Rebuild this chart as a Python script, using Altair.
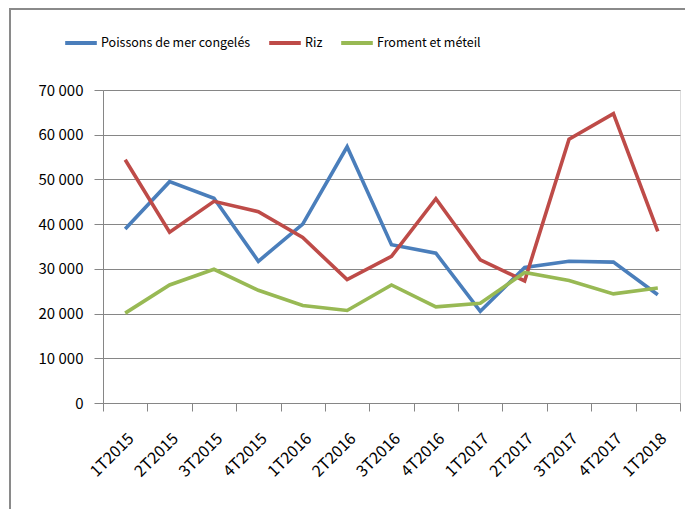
import altair as alt
import pandas as pd

quarters = ["1T2015", "2T2015", "3T2015", "4T2015", "1T2016", "2T2016", "3T2016",
            "4T2016", "1T2017", "2T2017", "3T2017", "4T2017", "1T2018"]
series_names = ["Poissons de mer congelés", "Riz", "Froment et méteil"]
poissons = [38900, 49500, 45800, 31700, 40000, 57300, 35400, 33500, 20500, 30300, 31700, 31500, 24200]
riz = [54400, 38200, 45100, 42800, 37000, 27600, 32800, 45700, 32000, 27300, 59000, 64700, 38400]
froment = [20100, 26400, 29900, 25200, 21800, 20700, 26400, 21500, 22300, 29200, 27400, 24400, 25700]
colors = ["#4a7ebb", "#be4b48", "#98b954"]
y_ticks = [0, 10000, 20000, 30000, 40000, 50000, 60000, 70000]

rows = []
for name, vals in zip(series_names, [poissons, riz, froment]):
    for q, v in zip(quarters, vals):
        rows.append({"Trimestre": q, "Produit": name, "Valeur": v})
df = pd.DataFrame(rows)

FONT = "Noto Sans CJK JP"
GRAY = "#868686"

lines = alt.Chart(df).mark_line(strokeWidth=3.6).encode(
    x=alt.X("Trimestre:O", sort=quarters, title=None,
            scale=alt.Scale(type="band", paddingInner=0, paddingOuter=0),
            axis=alt.Axis(labelAngle=-45, tickBand="extent", grid=False,
                          domainColor=GRAY, tickColor=GRAY, tickSize=8,
                          labelFont=FONT, labelFontSize=16, labelColor="#000000",
                          labelPadding=19)),
    y=alt.Y("Valeur:Q", title=None,
            scale=alt.Scale(domain=[0, 70000], nice=False),
            axis=alt.Axis(values=y_ticks, grid=True, gridColor=GRAY, gridWidth=1,
                          domainColor=GRAY, tickColor=GRAY, tickSize=9,
                          labelFont=FONT, labelFontSize=15, labelColor="#000000",
                          labelPadding=11,
                          labelExpr="replace(format(datum.value, ','), ',', ' ')")),
    color=alt.Color("Produit:N", sort=series_names,
                    scale=alt.Scale(domain=series_names, range=colors),
                    legend=alt.Legend(title=None, orient="none", direction="horizontal",
                                      legendX=-40, legendY=-65,
                                      symbolType="stroke", symbolSize=1000,
                                      symbolStrokeWidth=4, labelFont=FONT,
                                      labelFontSize=12.5, labelColor="#000000",
                                      labelLimit=0, labelOffset=2, columnPadding=10)),
    detail="Produit:N",
)

frame_df = pd.DataFrame({"a": [0]})
top_border = alt.Chart(frame_df).mark_rule(color="#8a8a8a", strokeWidth=2).encode(
    x=alt.value(-94), x2=alt.value(600), y=alt.value(-81))
left_border = alt.Chart(frame_df).mark_rule(color="#8a8a8a", strokeWidth=2).encode(
    x=alt.value(-93), y=alt.value(-82), y2=alt.value(430))

chart = alt.layer(lines, top_border, left_border).properties(
    width=577, height=313,
    autosize=alt.AutoSizeParams(type="none"),
    padding={"left": 95, "top": 82, "right": 5, "bottom": 106},
).configure_view(stroke=None).configure(background="#ffffff")

chart.save("out.html", embed_options={"renderer": "svg", "actions": False})
